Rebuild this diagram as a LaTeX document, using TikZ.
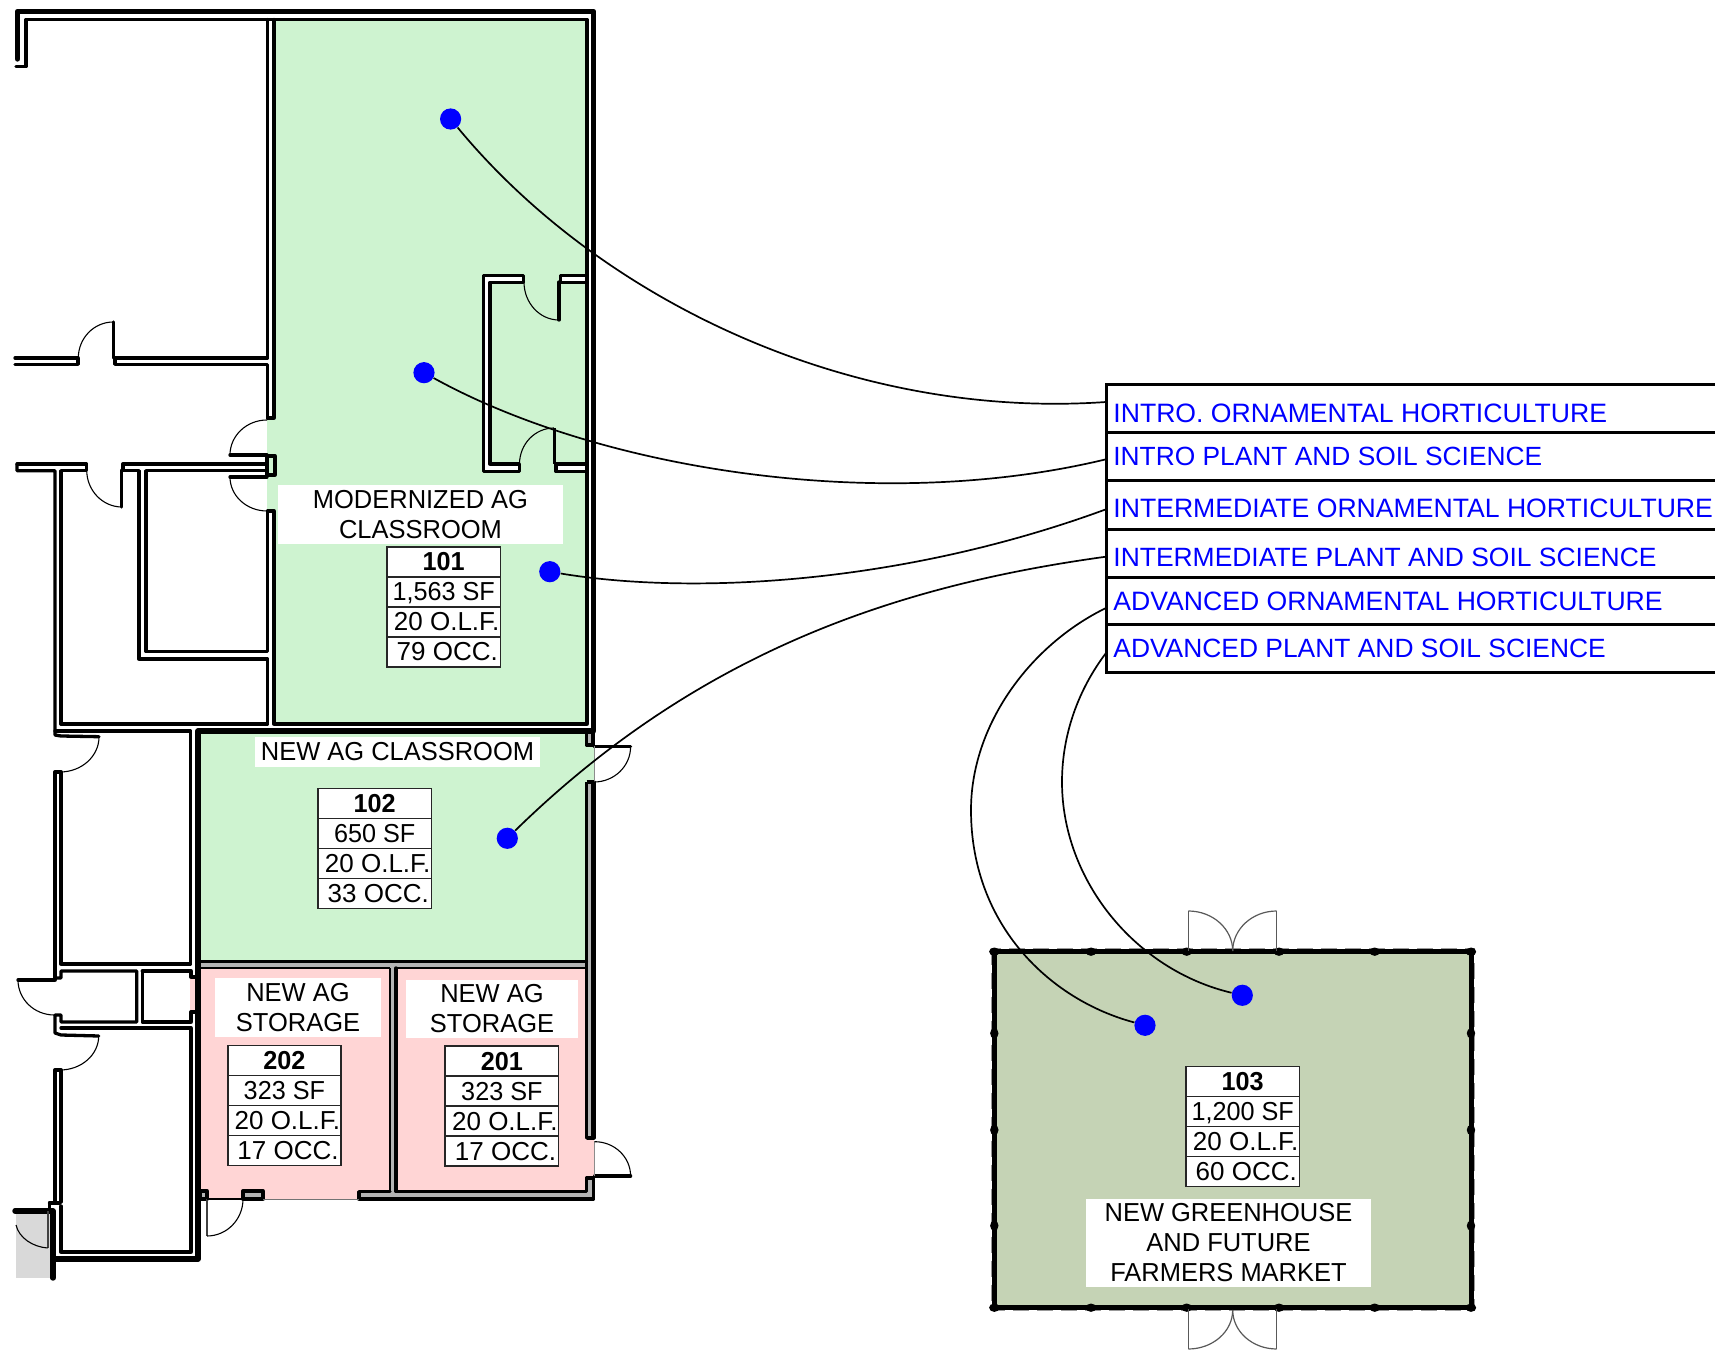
\documentclass[tikz,border=0pt]{standalone}
\usepackage{fontspec}
\setmainfont{Liberation Sans}
\newfontfamily\tabfont[FakeStretch=.97]{Liberation Sans}
\newfontfamily\labfont[FakeStretch=.98]{Liberation Sans}
\usetikzlibrary{calc}
\definecolor{roomgreen}{HTML}{CEF3D0}
\definecolor{roompink}{HTML}{FFD5D5}
\definecolor{wallgrey}{HTML}{B4B4B4}
\definecolor{housegreen}{HTML}{C5D3B5}
\definecolor{padgrey}{HTML}{D9D9D9}
\tikzset{
  wall/.style={draw=black,line width=1.65pt,line join=round,line cap=round},
  heavywall/.style={draw=black,line width=2.7pt,line join=round,line cap=round},
  fine/.style={draw=black,line width=.7pt},
  swing/.style={draw=black,line width=.55pt},
  hswing/.style={draw=black!65,line width=.6pt},
  link/.style={draw=black,line width=.85pt},
  bluedot/.style={circle,fill=blue,inner sep=0pt,minimum size=10.6pt},
  roomlabel/.style={fill=white,inner sep=0pt,align=center,font=\labfont\fontsize{13}{15}\selectfont},
  cell/.style={draw=black!85,line width=.8pt,fill=white,inner sep=0pt,minimum width=56.7pt,minimum height=15pt,align=center,text height=9pt,text depth=0pt,font=\tabfont\fontsize{13}{15}\selectfont},
  widecell/.style={cell,font=\fontsize{13}{15}\selectfont},
  courselabel/.style={text=blue,inner sep=0pt,anchor=west,text height=9.4pt,text depth=0pt,font=\fontsize{13.3}{15}\selectfont},
}
\newcommand{\dswing}[4][swing]{\draw[#1] (#2) .. controls ($(#2)!.552!(#4)$) and ($(#3)!.552!(#4)$) .. (#3);}
\newcommand{\roomtab}[7]{%
  \node[cell,font=\tabfont\fontsize{13}{15}\selectfont\bfseries] (#1a) at (#2,#3+15) {#4};
  \node[cell] (#1b) at (#2,#3+45) {#5};
  \node[widecell] (#1c) at (#2,#3+75) {\makebox[55pt][c]{\hspace*{3pt}#6}};
  \node[widecell] (#1d) at (#2,#3+105) {\makebox[55pt][c]{\hspace*{3.6pt}#7}};
}
\begin{document}
\begin{tikzpicture}[x=.5pt,y=-.5pt]
\useasboundingbox (0,0) rectangle (1715,1352);
% ---------- room fills
\fill[roomgreen] (273,19) rectangle (587,724);
\fill[roomgreen] (267,418) rectangle (274,511);
\fill[roomgreen] (198,731) rectangle (587,962);
\fill[roomgreen] (586,745) rectangle (594,782);
\fill[roompink] (198,966) rectangle (390,1199);
\fill[roompink] (396,966) rectangle (587,1192);
\fill[roompink] (586,1140) rectangle (594,1178);
\fill[roompink] (190,977) rectangle (196,1012);
\fill[padgrey] (16,1211) rectangle (53,1278);
\fill[housegreen] (994,952) rectangle (1471,1308);
% ---------- grey wall cores
\fill[wallgrey] (198,962) rectangle (594,968);
\fill[wallgrey] (390,968) rectangle (396,1199);
\fill[wallgrey] (359,1191) rectangle (594,1199);
\fill[wallgrey] (586,782) rectangle (594,1138);
\fill[wallgrey] (586,1178) rectangle (594,1199);
\fill[wallgrey] (586,731) rectangle (594,745);
\fill[wallgrey] (243,1191) rectangle (263,1199);
\fill[wallgrey] (200,1191) rectangle (207,1199);
% ---------- closet in room 101 (white wall cores)
\fill[white] (483,276) rectangle (490,472);
\fill[white] (483,276) rectangle (523,282);
\fill[white] (560,276) rectangle (587,282);
\fill[white] (483,464) rectangle (519,472);
\fill[white] (556,464) rectangle (587,472);
% ---------- heavy walls
\path[heavywall] (17.4,59) -- (17.4,11.5) -- (593.5,11.5) -- (593.5,731) -- (198,731) -- (198,1259) -- (53,1259);
\path[heavywall] (15,1211) -- (53,1211) -- (53,1278);
% ---------- walls, existing building
\path[wall] (16,66.7) -- (26,66.7) -- (26,19.5) -- (587,19.5) -- (587,724) -- (274,724) -- (274,511) -- (267.5,511) -- (267.5,651.7) -- (146,651.7) -- (146,470.7) -- (267,470.7);
\path[wall] (267.5,19.5) -- (267.5,358) -- (115,358) -- (115,364.3) -- (267.5,364.3) -- (267.5,418) -- (274,418) -- (274,19.5);
\path[wall] (15,358) -- (78,358) -- (78,364.3) -- (15,364.3);
\path[wall] (113.3,322) -- (113.3,358);
\path[wall] (230,455) -- (267,455);
\path[wall] (267,456) rectangle (275,475);
\path[wall] (230,477) -- (267,477);
\path[wall] (267,464) -- (123,464) -- (123,470.7) -- (139,470.7) -- (139,659) -- (267.5,659) -- (267.5,724) -- (61,724);
\path[wall] (17,464) -- (86.7,464) -- (86.7,470.7) -- (61,470.7) -- (61,724);
\path[wall] (17,464) -- (17,470.7) -- (55,470.7) -- (55,735) -- (61,736) -- (99,736.7);
\path[wall] (121.7,470) -- (121.7,507);
\path[wall] (55,731) -- (190.6,731) -- (190.6,964) -- (61,964) -- (61,772) -- (55,772) -- (55,980) -- (18,980);
\path[wall] (55,978) -- (61,978) -- (61,971) -- (136.7,971) -- (136.7,1022) -- (61,1022) -- (61,1015) -- (55,1015) -- (55,1033) -- (61,1035) -- (98.7,1036);
\path[wall] (142.3,971) -- (191,971) -- (191,977) -- (196,977);
\path[wall] (142.3,971) -- (142.3,1022) -- (191,1022) -- (191,1012) -- (196,1012);
\path[wall] (61,1028) -- (191,1028) -- (191,1252) -- (61,1252) -- (61,1206);
\path[wall] (61,1202) -- (61,1070) -- (55,1070) -- (55,1203) -- (49.5,1203) -- (49.5,1211);
\path[wall] (49.5,1203) -- (60,1203);
\path[draw=black!75,line width=1.1pt] (47.7,1211) -- (47.7,1248);
% closet walls
\path[wall] (523.3,275.7) -- (483.3,275.7) -- (483.3,471.7) -- (519.3,471.7) -- (519.3,464) -- (490,464) -- (490,282.3) -- (523.3,282.3) -- cycle;
\path[wall] (587,275.7) -- (560.7,275.7) -- (560.7,282.3) -- (587,282.3);
\path[wall] (559,282) -- (559,320);
\path[wall] (587,471.7) -- (556,471.7) -- (556,464) -- (587,464);
\path[draw=black,line width=1.2pt] (554.3,428) -- (554.3,464);
% ---------- walls, new building
\path[wall] (198,961.7) -- (586.5,961.7);
\path[fine] (198,968) -- (390,968);
\path[fine] (396,968) -- (587,968);
\path[wall] (586.5,733) -- (586.5,745) -- (593,745) -- (593,733);
\path[wall] (594,746.7) -- (630.6,746.7);
\path[draw=black,line width=1.2pt] (586.5,782) -- (586.5,961.7);
\path[wall] (586.5,1138) -- (586.5,961.7);
\path[draw=black,line width=2.2pt,line join=round] (586.5,782) -- (593.3,782) -- (593.3,1138) -- (586.5,1138);
\path[draw=black,line width=.8pt] (390,968) -- (390,1191.7);
\path[wall] (396,968) -- (396,1191.7) -- (586.5,1191.7) -- (586.5,1178) -- (593.5,1178) -- (593.5,1199) -- (359,1199) -- (359,1191.7) -- (390,1191.7);
\path[wall] (594.7,1176) -- (630.6,1176);
\path[wall] (243,1191) rectangle (263,1199);
\path[wall] (200,1191) rectangle (207,1199);
\path[draw=black!75,line width=1.1pt] (207,1199) -- (207,1236);
\path[draw=black,line width=.6pt] (207,1199) -- (243,1199);
\path[draw=black!55,line width=.7pt] (263,1199.5) -- (359,1199.5);
\path[draw=black!45,line width=.5pt] (594,746) -- (594,782);
\path[draw=black!45,line width=.5pt] (594,1141) -- (594,1176);
% ---------- door swings
\dswing{113.3,322}{78.3,358}{78.3,322}
\dswing{267,420}{230,455}{230,420}
\dswing{230,477}{267,511}{230,511}
\dswing{86.7,470}{122,507}{86.7,507}
\dswing{524,282}{559,320}{524,320}
\dswing{554,428}{519.5,464}{519.5,428}
\dswing{99,737}{60,772}{99,772}
\dswing{18,980}{54.3,1015}{18,1015}
\dswing{98.7,1036}{60,1070}{98.7,1070}
\draw[swing] (47.7,1248) .. controls (33,1247) and (19,1238) .. (16,1225);
\dswing{207,1236}{243,1199}{243,1236}
\dswing{594,782}{630.6,746.7}{630.6,782}
\dswing{594.7,1141.7}{630.6,1176}{630.6,1141.7}
% ---------- greenhouse
\path[draw=black!40,line width=.5pt,dash pattern=on 8pt off 4pt] (991.3,948.7) rectangle (1474,1310.7);
\path[draw=black,line width=2.5pt] (994.3,951.7) rectangle (1471,1307.7);
\foreach \x in {994.3,1091,1186.7,1279,1374.7,1471}{
  \fill (\x,951.7) ellipse (2.6pt and 2.1pt);
  \fill (\x,1307.7) ellipse (2.6pt and 2.1pt);
}
\foreach \y in {1033.3,1130,1225.7}{
  \fill (994.3,\y) ellipse (2.1pt and 2.6pt);
  \fill (1471,\y) ellipse (2.1pt and 2.6pt);
}
\path[hswing] (1188.3,911) -- (1188.3,951);
\path[hswing] (1276.7,911) -- (1276.7,951);
\path[hswing] (1188.3,1309) -- (1188.3,1349);
\path[hswing] (1276.7,1309) -- (1276.7,1349);
\dswing[hswing]{1188.3,911}{1232.7,951}{1232.7,911}
\dswing[hswing]{1276.7,911}{1232.7,951}{1232.7,911}
\dswing[hswing]{1188.3,1349}{1232.7,1310}{1232.7,1349}
\dswing[hswing]{1276.7,1349}{1232.7,1310}{1232.7,1349}
% ---------- room labels
\node[roomlabel,minimum width=142.5pt,minimum height=29.5pt] (lab101) at (420.5,514.5) {MODERNIZED AG\\CLASSROOM};
\node[roomlabel,minimum width=142.5pt,minimum height=15pt] (lab102) at (397.5,752) {NEW AG CLASSROOM};
\node[roomlabel,minimum width=83pt,minimum height=29.2pt] (lab202) at (298,1007.5) {NEW AG\\STORAGE};
\node[roomlabel,minimum width=86pt,minimum height=29.3pt] (lab201) at (492,1008.8) {NEW AG\\STORAGE};
\node[roomlabel,minimum width=142.5pt,minimum height=43.8pt] (lab103) at (1228.5,1242.8) {NEW GREENHOUSE\\AND FUTURE\\FARMERS MARKET};
% ---------- room tables
\roomtab{t101}{443.7}{547}{101}{1,563 SF}{20 O.L.F.}{79 OCC.}
\roomtab{t102}{374.7}{788.5}{102}{650 SF}{20 O.L.F.}{33 OCC.}
\roomtab{t202}{284.4}{1045.5}{202}{323 SF}{20 O.L.F.}{17 OCC.}
\roomtab{t201}{501.9}{1046.2}{201}{323 SF}{20 O.L.F.}{17 OCC.}
\roomtab{t103}{1242.7}{1066.6}{103}{1,200 SF}{20 O.L.F.}{60 OCC.}
% ---------- course list
\path[draw=black,line width=1.5pt] (1715,385) -- (1106.3,385) -- (1106.3,672.7) -- (1715,672.7);
\foreach \y in {432.7,481,529.3,577.3,625}{
  \path[draw=black,line width=1.5pt] (1106.3,\y) -- (1715,\y);
}
\node[courselabel] (c1) at (1113,412.7) {INTRO. ORNAMENTAL HORTICULTURE};
\node[courselabel,font=\fontsize{13.17}{15}\selectfont] (c2) at (1113,456.3) {INTRO PLANT AND SOIL SCIENCE};
\node[courselabel] (c3) at (1113,508.5) {INTERMEDIATE ORNAMENTAL HORTICULTURE};
\node[courselabel,font=\fontsize{13.22}{15}\selectfont] (c4) at (1113,557.5) {INTERMEDIATE PLANT AND SOIL SCIENCE};
\node[courselabel] (c5) at (1113,600.7) {ADVANCED ORNAMENTAL HORTICULTURE};
\node[courselabel,font=\fontsize{13.2}{15}\selectfont] (c6) at (1113,648.5) {ADVANCED PLANT AND SOIL SCIENCE};
\coordinate (e1) at (1106,402);
\coordinate (e2) at (1106,459.3);
\coordinate (e3) at (1106,509.3);
\coordinate (e4) at (1106,556.7);
\coordinate (e5) at (1106,608);
\coordinate (e6) at (1106,653);
% ---------- dots and connectors
\node[bluedot] (d1) at (450.6,119) {};
\node[bluedot] (d2) at (424,372.7) {};
\node[bluedot] (d3) at (549.8,571.7) {};
\node[bluedot] (d4) at (507.3,838.3) {};
\node[bluedot] (d5) at (1145,1025.3) {};
\node[bluedot] (d6) at (1242.3,995.3) {};
\draw[link] (d1) .. controls (600,300) and (850,420) .. (e1);
\draw[link] (d2) .. controls (600,470) and (880,514) .. (e2);
\draw[link] (d3) .. controls (690,595) and (900,585) .. (e3);
\draw[link] (d4) .. controls (700,650) and (900,585) .. (e4);
\draw[link] (e5) .. controls (1030,645) and (971,725) .. (971,810) .. controls (971,925) and (1050,1000) .. (d5);
\draw[link] (e6) .. controls (1078,690) and (1062,735) .. (1062,782) .. controls (1062,880) and (1135,970) .. (d6);
\end{tikzpicture}
\end{document}
